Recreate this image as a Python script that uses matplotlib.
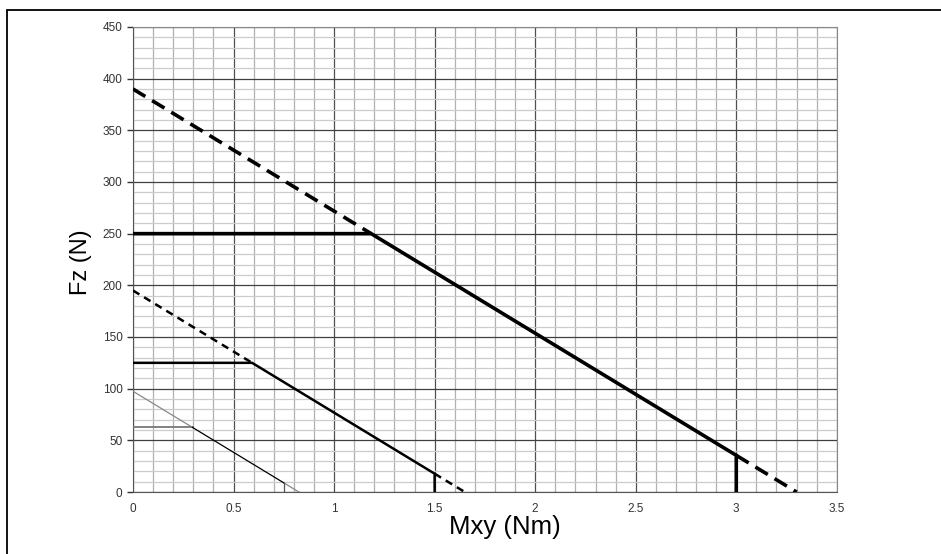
import matplotlib.pyplot as plt
import numpy as np
from matplotlib.patches import Rectangle

# load envelopes: Fz intercept (N), Mxy at Fz=0 (Nm), Fz cap, Mxy cap
fz_intercept = [390, 195, 97.5]
mxy_zero = [3.3, 1.65, 0.825]
fz_cap = [250, 125, 62.5]
mxy_cap = [3.0, 1.5, 0.75]

x_ticks = [0, 0.5, 1, 1.5, 2, 2.5, 3, 3.5]
x_ticklabels = ['0', '0.5', '1', '1.5', '2', '2.5', '3', '3.5']
y_ticks = [0, 50, 100, 150, 200, 250, 300, 350, 400, 450]

plt.rcParams['font.family'] = ['Liberation Sans', 'DejaVu Sans']

fig = plt.figure(figsize=(9.41, 5.54), dpi=100)
ax = fig.add_axes([0.1413, 0.1119, 0.748, 0.8394])

# frame around the whole figure
fig.patches.append(Rectangle((0.0075, -0.1), 1.2, 1.082, transform=fig.transFigure,
                             fill=False, edgecolor='black', linewidth=1.3))

# grid
for xv in np.arange(0, 3.51, 0.1):
    major = abs(xv / 0.5 - round(xv / 0.5)) < 1e-6
    ax.axvline(xv, color='#505050' if major else '#b0b0b0', lw=0.9, zorder=1)
for yv in range(0, 451, 10):
    major = yv % 50 == 0
    ax.axhline(yv, color='#404040' if major else '#cccccc', lw=0.9, zorder=1)


def line_at(x, i):
    return fz_intercept[i] - fz_intercept[i] / mxy_zero[i] * x


styles = [dict(lw=2.6, dash=(4, 2.2)), dict(lw=1.8, dash=(3, 2.2)), dict(lw=0.9, dash=None)]

for i in range(3):
    knee = (fz_intercept[i] - fz_cap[i]) / (fz_intercept[i] / mxy_zero[i])
    y_end = line_at(mxy_cap[i], i)
    st = styles[i]
    if st['dash'] is not None:
        # dashed part of the linear limit
        ax.plot([0, knee], [fz_intercept[i], fz_cap[i]], color='black', lw=st['lw'],
                linestyle=(0, st['dash']), zorder=3)
        ax.plot([mxy_cap[i], mxy_zero[i]], [y_end, 0], color='black', lw=st['lw'],
                linestyle=(0, st['dash']), zorder=3)
        ax.plot([0, knee, mxy_cap[i], mxy_cap[i]], [fz_cap[i], fz_cap[i], y_end, 0],
                color='black', lw=st['lw'], solid_joinstyle='miter', zorder=4)
    else:
        ax.plot([0, knee], [fz_intercept[i], fz_cap[i]], color='#888888', lw=st['lw'], zorder=3)
        ax.plot([mxy_cap[i], mxy_zero[i]], [y_end, 0], color='#888888', lw=st['lw'], zorder=3)
        ax.plot([0, knee], [fz_cap[i], fz_cap[i]], color='#777777', lw=1.3, zorder=3)
        ax.plot([knee, mxy_cap[i]], [fz_cap[i], y_end], color='black', lw=st['lw'], zorder=4)
        ax.plot([mxy_cap[i], mxy_cap[i]], [y_end, 0], color='#555555', lw=st['lw'], zorder=4)

ax.set_xlim(0, 3.5)
ax.set_ylim(0, 450)
ax.set_xticks(x_ticks)
ax.set_xticklabels(x_ticklabels)
ax.set_yticks(y_ticks)
ax.tick_params(axis='both', labelsize=8.5, colors='#333333', length=4, width=1.0)
ax.tick_params(axis='x', length=0, pad=8)
for s in ax.spines.values():
    s.set_color('#888888')
ax.spines['left'].set_color('#555555')
ax.spines['bottom'].set_color('#555555')

ax.set_xlabel('Mxy (Nm)', fontsize=18.5)
ax.set_ylabel('Fz (N)', fontsize=17)
ax.xaxis.set_label_coords(0.528, -0.05)
ax.yaxis.set_label_coords(-0.058, 0.495)

fig.savefig('out.png', dpi=100)
